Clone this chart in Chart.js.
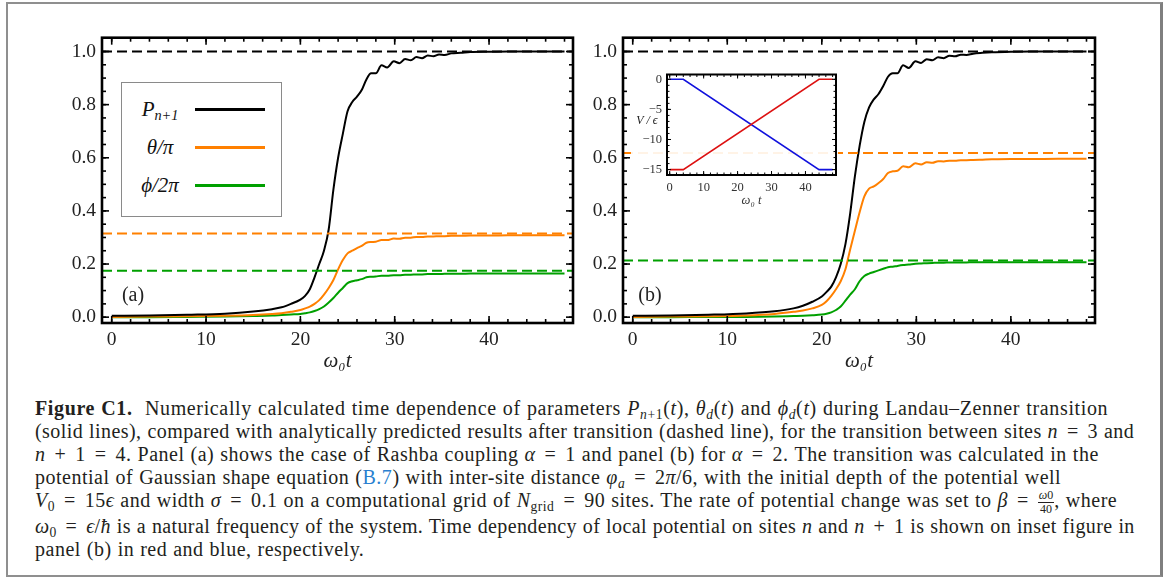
<!DOCTYPE html>
<html lang="en">
<head>
<meta charset="UTF-8">
<title>Figure C1</title>
<script src="https://cdn.jsdelivr.net/npm/chart.js"></script>
<style>
  html, body { margin: 0; padding: 0; background: #fff; }
  body { width: 1174px; height: 580px; position: relative; overflow: hidden;
         font-family: "Liberation Serif", "Times New Roman", serif; }
  #frame { position: absolute; left: 6px; top: 2px; width: 1157px; height: 575px; box-sizing: border-box;
           border: 2px solid #8f8f8f; border-right: 3px solid #7f7f7f; }
  canvas { position: absolute; }
  #chartA { left: 40px; top: 20px; }
  #chartB { left: 560px; top: 20px; }
  #inset { left: 631px; top: 62px; background: rgba(255,255,255,0.9); }
  .tag { position: absolute; font-size: 20px; color: #222; transform: translate(-50%, -50%); }
  .ital { font-style: italic; }
  #legend { position: absolute; left: 121px; top: 82px; width: 161px; height: 135px; box-sizing: border-box;
            border: 1px solid #8a8a8a; background: #fff; }
  #legend .lab { position: absolute; left: 38px; transform: translate(-50%, -50%); font-size: 21px; white-space: nowrap; color: #111; }
  #legend .sw { position: absolute; left: 73px; width: 70px; height: 3px; margin-top: -1.5px; }
  sub { font-size: 68%; line-height: 0; vertical-align: -0.3em; }
  #caption { position: absolute; left: 35px; top: 397px; font-size: 20px; letter-spacing: 0.5px; word-spacing: 0.5px;
             line-height: 23px; color: #231f20; white-space: nowrap; }
  #caption i { font-style: italic; }
  #caption .op { margin: 0 3px; }
  .frac { display: inline-block; vertical-align: -0.45em; text-align: center; font-size: 60%; line-height: 1.05; letter-spacing: 0; }
  .frac span { display: block; }
  .frac .num { border-bottom: 1px solid #231f20; padding: 0 1px; }
  .link { color: #2a7fd0; }
</style>
</head>
<body>
<div id="frame"></div>
<canvas id="chartA" width="545" height="360"></canvas>
<canvas id="chartB" width="547" height="360"></canvas>
<canvas id="inset" width="207" height="146"></canvas>

<div id="legend">
  <span class="lab ital" style="top:26px">P<sub>n+1</sub></span>
  <div class="sw" style="top:26px; background:#000"></div>
  <span class="lab ital" style="top:64px">θ/π</span>
  <div class="sw" style="top:64px; background:#ff8000"></div>
  <span class="lab ital" style="top:102px">ϕ/2π</span>
  <div class="sw" style="top:102px; background:#00a000"></div>
</div>
<div class="tag" style="left:133px; top:294px">(a)</div>
<div class="tag" style="left:650px; top:294px">(b)</div>
<div class="tag ital" style="left:647px; top:120px; font-size:12px">V / ϵ</div>

<div id="caption">
<span style="letter-spacing:0.64px"><b>Figure C1.</b>&nbsp; Numerically calculated time dependence of parameters <i>P</i><sub><i>n</i>+1</sub>(<i>t</i>), <i>θ</i><sub><i>d</i></sub>(<i>t</i>) and <i>ϕ</i><sub><i>d</i></sub>(<i>t</i>) during Landau–Zenner transition</span><br>
<span style="letter-spacing:0.43px">(solid lines), compared with analytically predicted results after transition (dashed line), for the transition between sites <i>n</i> <span class="op">=</span> 3 and</span><br>
<i>n</i> <span class="op">+</span> 1 <span class="op">=</span> 4. Panel (a) shows the case of Rashba coupling <i>α</i> <span class="op">=</span> 1 and panel (b) for <i>α</i> <span class="op">=</span> 2. The transition was calculated in the<br>
potential of Gaussian shape equation (<span class="link">B.7</span>) with inter-site distance <i>φ</i><sub><i>a</i></sub> <span class="op">=</span> 2<i>π</i>/6, with the initial depth of the potential well<br>
<i>V</i><sub>0</sub> <span class="op">=</span> 15<i>ϵ</i> and width <i>σ</i> <span class="op">=</span> 0.1 on a computational grid of <i>N</i><sub>grid</sub> <span class="op">=</span> 90 sites. The rate of potential change was set to <i>β</i> <span class="op">=</span> <span class="frac"><span class="num"><i>ω</i>0</span><span>40</span></span>, where<br>
<span style="letter-spacing:0.38px"><i>ω</i><sub>0</sub> <span class="op">=</span> <i>ϵ</i>/<i>ħ</i> is a natural frequency of the system. Time dependency of local potential on sites <i>n</i> and <i>n</i> <span class="op">+</span> 1 is shown on inset figure in</span><br>
panel (b) in red and blue, respectively.
</div>

<script>
  // time grid (omega_0 t) shared by the solid curves
  const T_GRID = [0, 4, 8, 12, 15, 17, 18, 19, 20, 20.5, 21, 21.5, 22, 22.5, 23, 23.5, 24, 24.5, 25, 25.5,
                  26, 26.5, 27, 27.5, 28, 28.6, 29.2, 29.9, 30.5, 31.1, 31.7, 32.3, 32.9, 33.5, 34.1, 34.7,
                  35.3, 36, 37, 38, 40, 42, 45, 48];

  // panel (a), alpha = 1
  const P_A = [0.005, 0.006, 0.009, 0.013, 0.021, 0.030, 0.037, 0.050, 0.066, 0.080, 0.105, 0.150, 0.200, 0.250,
               0.330, 0.480, 0.600, 0.690, 0.775, 0.810, 0.830, 0.855, 0.895, 0.918, 0.918, 0.948, 0.940, 0.963,
               0.956, 0.972, 0.967, 0.979, 0.975, 0.985, 0.982, 0.989, 0.987, 0.993, 0.995, 0.998, 0.999, 1.0, 1.0, 1.0];
  const THETA_A = [0.001, 0.002, 0.003, 0.005, 0.008, 0.012, 0.015, 0.020, 0.027, 0.033, 0.040, 0.050, 0.064, 0.085,
                   0.110, 0.140, 0.180, 0.215, 0.240, 0.250, 0.260, 0.268, 0.280, 0.283, 0.284, 0.290, 0.290, 0.296,
                   0.295, 0.299, 0.299, 0.302, 0.302, 0.304, 0.304, 0.305, 0.305, 0.306, 0.306, 0.307, 0.307, 0.308, 0.308, 0.308];
  const PHI_A = [0.0, 0.0, 0.001, 0.002, 0.004, 0.006, 0.008, 0.010, 0.012, 0.015, 0.018, 0.023, 0.030, 0.040,
                 0.055, 0.072, 0.092, 0.110, 0.128, 0.135, 0.139, 0.143, 0.150, 0.152, 0.153, 0.156, 0.156, 0.158,
                 0.158, 0.160, 0.160, 0.161, 0.161, 0.162, 0.162, 0.162, 0.163, 0.163, 0.163, 0.164, 0.164, 0.164, 0.164, 0.164];
  const DASH_A = [1.0, 0.315, 0.175];

  // panel (b), alpha = 2
  const P_B = [0.005, 0.006, 0.009, 0.014, 0.022, 0.033, 0.043, 0.058, 0.078, 0.095, 0.115, 0.150, 0.200, 0.275,
               0.390, 0.530, 0.645, 0.735, 0.790, 0.820, 0.840, 0.870, 0.905, 0.918, 0.918, 0.948, 0.938, 0.963,
               0.957, 0.971, 0.967, 0.978, 0.975, 0.984, 0.982, 0.988, 0.987, 0.992, 0.995, 0.997, 0.999, 1.0, 1.0, 1.0];
  const THETA_B = [0.001, 0.002, 0.003, 0.006, 0.012, 0.020, 0.025, 0.033, 0.046, 0.060, 0.080, 0.105, 0.135, 0.180,
                   0.255, 0.325, 0.395, 0.455, 0.484, 0.492, 0.505, 0.520, 0.543, 0.549, 0.551, 0.568, 0.564, 0.579,
                   0.575, 0.583, 0.581, 0.587, 0.586, 0.589, 0.589, 0.591, 0.591, 0.592, 0.593, 0.594, 0.595, 0.595, 0.596, 0.596];
  const PHI_B = [0.0, 0.0, 0.001, 0.001, 0.002, 0.004, 0.005, 0.007, 0.010, 0.013, 0.018, 0.027, 0.040, 0.062,
                 0.085, 0.105, 0.135, 0.155, 0.164, 0.170, 0.176, 0.182, 0.188, 0.190, 0.193, 0.196, 0.198, 0.201,
                 0.202, 0.203, 0.204, 0.205, 0.205, 0.206, 0.206, 0.206, 0.206, 0.207, 0.207, 0.207, 0.207, 0.207, 0.207, 0.207];
  const DASH_B = [1.0, 0.618, 0.213];

  // inset: local potential V/epsilon on sites n (red) and n+1 (blue)
  const INSET_T = [0, 4, 44, 48];
  const V_SITE_N = [-15, -15, 0, 0];
  const V_SITE_N1 = [0, 0, -15, -15];

  // ticks and axis ranges
  const X_TICKS = [0, 10, 20, 30, 40];
  const Y_TICKS = [0, 0.2, 0.4, 0.6, 0.8, 1.0];
  const INSET_X_TICKS = [0, 10, 20, 30, 40];
  const INSET_Y_TICKS = [0, -5, -10, -15];
  const X_RANGE = [-1.03, 48.9];
  const Y_RANGE = [-0.022, 1.052];
  const INSET_X_RANGE = [-0.8, 49];
  const INSET_Y_RANGE = [-15.9, 0.8];

  const COLORS = ['#000000', '#ff8000', '#00a000'];
  const SERIF = '"Liberation Serif", "Times New Roman", serif';

  function steps(lo, hi, step) {
    const out = [];
    for (let v = Math.ceil(lo / step) * step; v <= hi + 1e-9; v += step) out.push(+v.toFixed(4));
    return out;
  }

  // Mathematica-like frame: box with inward ticks on all four sides
  const frameTicks = {
    id: 'frameTicks',
    afterDatasetsDraw(chart, args, o) {
      const { ctx, chartArea: a, scales: { x, y } } = chart;
      ctx.save();
      ctx.strokeStyle = '#000';
      ctx.lineWidth = o.tickWidth;
      const seg = (x0, y0, x1, y1) => { ctx.beginPath(); ctx.moveTo(x0, y0); ctx.lineTo(x1, y1); ctx.stroke(); };
      const drawX = (vals, len) => vals.forEach(v => {
        const p = x.getPixelForValue(v);
        seg(p, a.bottom, p, a.bottom - len);
        seg(p, a.top, p, a.top + len);
      });
      const drawY = (vals, len) => vals.forEach(v => {
        const p = y.getPixelForValue(v);
        seg(a.left, p, a.left + len, p);
        seg(a.right, p, a.right - len, p);
      });
      drawX(o.xMinor, o.minorLen); drawX(o.xMajor, o.majorLen);
      drawY(o.yMinor, o.minorLen); drawY(o.yMajor, o.majorLen);
      ctx.lineWidth = o.frameWidth;
      ctx.strokeRect(a.left, a.top, a.right - a.left, a.bottom - a.top);
      ctx.restore();
    }
  };

  function series(ts, ys, color, width, dash) {
    return {
      data: ts.map((t, i) => ({ x: t, y: ys[i] })),
      borderColor: color,
      borderWidth: width,
      borderDash: dash || [],
      pointRadius: 0,
      cubicInterpolationMode: 'monotone',
      fill: false
    };
  }

  function makePanel(id, curves, dashed, yAxisWidth) {
    const datasets = [];
    dashed.forEach((v, i) => datasets.push(series(X_RANGE, [v, v], COLORS[i], 2, [10, 5])));
    curves.forEach((ys, i) => datasets.push(series(T_GRID, ys, COLORS[i], 2)));
    return new Chart(document.getElementById(id), {
      type: 'line',
      data: { datasets },
      plugins: [frameTicks],
      options: {
        responsive: false,
        animation: false,
        layout: { padding: { top: 12, right: 12, left: 0, bottom: 0 } },
        plugins: {
          legend: { display: false },
          tooltip: { enabled: false },
          frameTicks: {
            xMajor: X_TICKS, xMinor: steps(X_RANGE[0], X_RANGE[1], 2),
            yMajor: Y_TICKS, yMinor: steps(Y_RANGE[0], Y_RANGE[1], 0.05),
            majorLen: 7, minorLen: 4, tickWidth: 1.6, frameWidth: 2.6
          }
        },
        scales: {
          x: {
            type: 'linear', min: X_RANGE[0], max: X_RANGE[1],
            grid: { display: false, drawTicks: false }, border: { display: false },
            afterBuildTicks: s => { s.ticks = X_TICKS.map(v => ({ value: v })); },
            afterFit: s => { s.height = 57; },
            ticks: { padding: 5, color: '#222', font: { family: SERIF, size: 19.5 }, callback: v => String(v) },
            title: { display: true, text: 'ω₀t', color: '#222', padding: { top: 0, bottom: 6 },
                     font: { family: SERIF, size: 21, style: 'italic' } }
          },
          y: {
            type: 'linear', min: Y_RANGE[0], max: Y_RANGE[1],
            grid: { display: false, drawTicks: false }, border: { display: false },
            afterBuildTicks: s => { s.ticks = Y_TICKS.map(v => ({ value: v })); },
            afterFit: s => { s.width = yAxisWidth; },
            ticks: { padding: 6, color: '#222', font: { family: SERIF, size: 19.5 }, callback: v => v.toFixed(1) }
          }
        }
      }
    });
  }

  makePanel('chartA', [P_A, THETA_A, PHI_A], DASH_A, 62);
  makePanel('chartB', [P_B, THETA_B, PHI_B], DASH_B, 63);

  new Chart(document.getElementById('inset'), {
    type: 'line',
    data: {
      datasets: [
        series(INSET_T, V_SITE_N, '#dd1111', 1.6),
        series(INSET_T, V_SITE_N1, '#1111dd', 1.6)
      ].map(d => Object.assign(d, { cubicInterpolationMode: 'default', tension: 0 }))
    },
    plugins: [frameTicks],
    options: {
      responsive: false,
      animation: false,
      layout: { padding: { top: 7, right: 2, left: 0, bottom: 0 } },
      plugins: {
        legend: { display: false },
        tooltip: { enabled: false },
        frameTicks: {
          xMajor: INSET_X_TICKS, xMinor: steps(INSET_X_RANGE[0], INSET_X_RANGE[1], 2),
          yMajor: INSET_Y_TICKS, yMinor: steps(INSET_Y_RANGE[0], INSET_Y_RANGE[1], 1),
          majorLen: 4, minorLen: 2.5, tickWidth: 1, frameWidth: 2
        }
      },
      scales: {
        x: {
          type: 'linear', min: INSET_X_RANGE[0], max: INSET_X_RANGE[1],
          grid: { display: false, drawTicks: false }, border: { display: false },
          afterBuildTicks: s => { s.ticks = INSET_X_TICKS.map(v => ({ value: v })); },
          afterFit: s => { s.height = 33; },
          ticks: { padding: 5, color: '#333', font: { family: SERIF, size: 12.5 }, callback: v => String(v) },
          title: { display: true, text: 'ω₀ t', color: '#333', padding: { top: 0, bottom: 0 },
                   font: { family: SERIF, size: 12.5, style: 'italic' } }
        },
        y: {
          type: 'linear', min: INSET_Y_RANGE[0], max: INSET_Y_RANGE[1],
          grid: { display: false, drawTicks: false }, border: { display: false },
          afterBuildTicks: s => { s.ticks = INSET_Y_TICKS.map(v => ({ value: v })); },
          afterFit: s => { s.width = 36; },
          ticks: { padding: 5, color: '#333', font: { family: SERIF, size: 12.5 },
                   callback: v => v < 0 ? '−' + Math.abs(v) : String(v) }
        }
      }
    }
  });
</script>
</body>
</html>
